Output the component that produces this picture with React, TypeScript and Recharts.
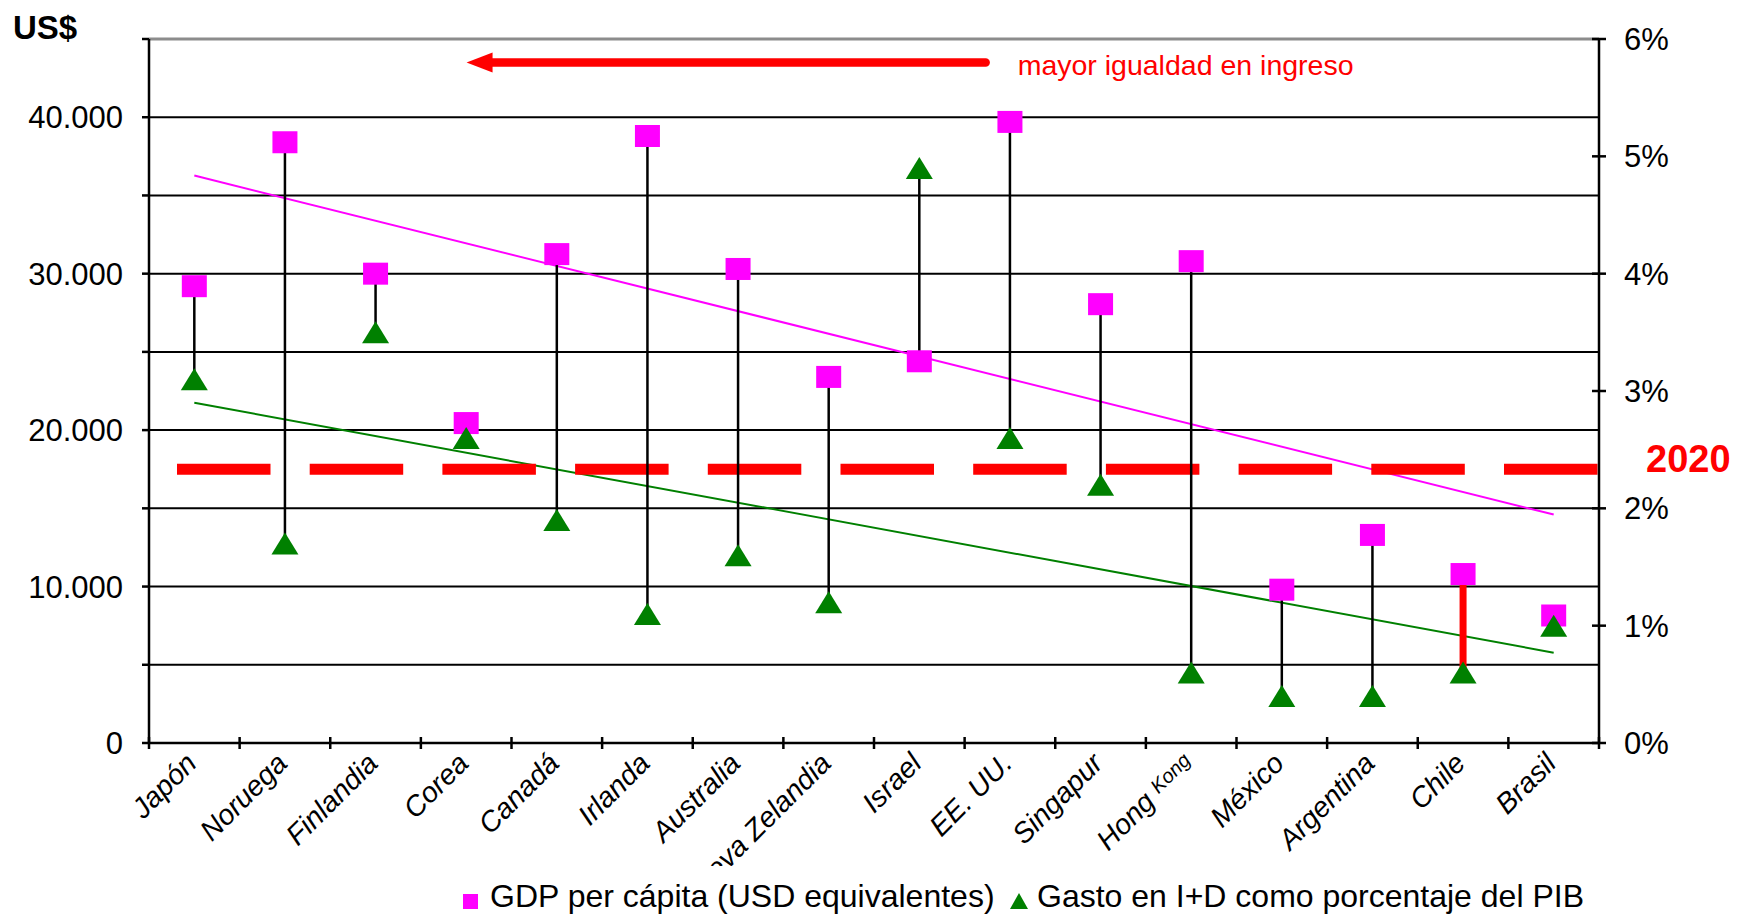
import React from 'react';
import {
    ComposedChart,
    Line,
    XAxis,
    YAxis,
    CartesianGrid,
    ReferenceLine,
    ErrorBar
} from 'recharts';

// ---- data ----
const categories = [
    'Japón', 'Noruega', 'Finlandia', 'Corea', 'Canadá', 'Irlanda', 'Australia', 'Nueva Zelandia',
    'Israel', 'EE. UU.', 'Singapur', 'Hong Kong', 'México', 'Argentina', 'Chile', 'Brasil'
];
const gdpPerCapita = [29200, 38400, 30000, 20450, 31250, 38800, 30300, 23400, 24400, 39700, 28050, 30800, 9800, 13300, 10800, 8150];
const rdSharePct = [3.1, 1.7, 3.5, 2.6, 1.9, 1.1, 1.6, 1.2, 4.9, 2.6, 2.2, 0.6, 0.4, 0.4, 0.6, 1.0];
// trend lines: value at first and last category
const gdpTrendEnds = [36270, 14600];
const rdTrendEnds = [2.9, 0.77];
const highlightedCountry = 'Chile';
const threshold2020 = 17500;

const leftTicks = [0, 5000, 10000, 15000, 20000, 25000, 30000, 35000, 40000, 45000];
const rightTicks = [0, 1, 2, 3, 4, 5, 6];
const LEFT_MAX = 45000;
const RIGHT_MAX = 6;

// annotation placement: arrow height (left axis units) and span as share of plot width
const arrowY = 43500;
const arrowFrom = 0.219;
const arrowTo = 0.577;

// ---- layout ----
const FONT = '"Liberation Sans", Arial, sans-serif';
const MAGENTA = '#FF00FF';
const GREEN = '#008000';
const RED = '#FF0000';
const CHART_W = 1744;
const CHART_H = 917;
const LEFT_W = 149;
const RIGHT_W = 145;
const TOP = 39;
const XAXIS_H = 174;
const BAND = (CHART_W - LEFT_W - RIGHT_W) / categories.length;
const RIGHT_TICK_MARGIN = 25;
const LABEL_CLIP_BOTTOM = 866;
const DASH = 93.5;
const GAP = 39.2;
const DASH_LEAD = 28;

const ratio = LEFT_MAX / RIGHT_MAX;
const last = categories.length - 1;

const rows = categories.map((name, i) => {
    const g = gdpPerCapita[i];
    const r = rdSharePct[i] * ratio;
    const top = Math.max(g, r);
    const span = Math.abs(g - r);
    const hl = name === highlightedCountry;
    return {
        name,
        gdp: g,
        rd: rdSharePct[i],
        gdpTrend: i === 0 ? gdpTrendEnds[0] : i === last ? gdpTrendEnds[1] : null,
        rdTrend: i === 0 ? rdTrendEnds[0] : i === last ? rdTrendEnds[1] : null,
        connTop: hl ? null : top,
        connErr: hl ? null : [span, 0],
        hlTop: hl ? top : null,
        hlErr: hl ? [span, 0] : null
    };
});

const fmtThousands = (v: number) => String(v).replace(/\B(?=(\d{3})+(?!\d))/g, '.');

const SquareDot = (props: any) => {
    const { cx, cy, index } = props;
    if (cx == null || cy == null) return <g key={`sq-${index}`} />;
    return <rect key={`sq-${index}`} x={cx - 12.5} y={cy - 11} width={25} height={22} fill={MAGENTA} />;
};

const TriangleDot = (props: any) => {
    const { cx, cy, index } = props;
    if (cx == null || cy == null) return <g key={`tr-${index}`} />;
    const w = 27, h = 22;
    return (
        <path
            key={`tr-${index}`}
            d={`M${cx},${cy - h / 2} L${cx + w / 2},${cy + h / 2} L${cx - w / 2},${cy + h / 2} Z`}
            fill={GREEN}
        />
    );
};

const CategoryTick = (props: any) => {
    const { x, y, payload, index } = props;
    const half = BAND / 2;
    const name: string = payload.value;
    const px = x + 4;
    const py = y + 22;
    return (
        <g>
            <line x1={x - half} x2={x - half} y1={y - 6} y2={y + 6} stroke="#000" strokeWidth={2.5} />
            {index === last && <line x1={x + half} x2={x + half} y1={y - 6} y2={y + 6} stroke="#000" strokeWidth={2.5} />}
            <defs>
                <clipPath id={`xl-${index}`}>
                    <rect x={0} y={0} width={CHART_W} height={LABEL_CLIP_BOTTOM} />
                </clipPath>
            </defs>
            <g clipPath={`url(#xl-${index})`}>
                <text
                    transform={`translate(${px},${py}) rotate(-45)`}
                    textAnchor="end"
                    fontFamily={FONT}
                    fontSize={28.5}
                    fontStyle="italic"
                    fill="#000"
                >
                    {name === 'Hong Kong' ? (
                        <>
                            <tspan>Hong </tspan>
                            <tspan fontSize={20} dy={-5}>Kong</tspan>
                        </>
                    ) : name}
                </text>
            </g>
        </g>
    );
};

const PercentTick = (props: any) => {
    const { x, y, payload } = props;
    const axisX = x - RIGHT_TICK_MARGIN;
    return (
        <g>
            <line x1={axisX - 7} x2={axisX + 7} y1={y} y2={y} stroke="#000" strokeWidth={2.5} />
            <text x={x} y={y} dy="0.36em" textAnchor="start" fontFamily={FONT} fontSize={31} fill="#000">
                {`${payload.value}%`}
            </text>
        </g>
    );
};

const Dashed2020 = (p: any) => (
    <g>
        <line
            x1={p.x1}
            y1={p.y1}
            x2={p.x2}
            y2={p.y2}
            stroke={RED}
            strokeWidth={11}
            strokeDasharray={`${DASH} ${GAP}`}
            strokeDashoffset={DASH + GAP - DASH_LEAD}
        />
        <text x={p.x2 + 47} y={p.y2 + 3} fill={RED} fontFamily={FONT} fontWeight="bold" fontSize={38}>2020</text>
    </g>
);

const IncomeArrow = (p: any) => {
    const w = p.x2 - p.x1;
    const tip = p.x1 + w * arrowFrom;
    const end = p.x1 + w * arrowTo;
    const y = p.y1;
    return (
        <g>
            <line x1={tip + 20} y1={y} x2={end} y2={y} stroke={RED} strokeWidth={8.5} strokeLinecap="round" />
            <polygon points={`${tip},${y} ${tip + 26},${y - 10} ${tip + 26},${y + 10}`} fill={RED} />
            <text x={end + 32} y={y + 12.5} fill={RED} fontFamily={FONT} fontSize={28.5}>mayor igualdad en ingreso</text>
        </g>
    );
};

export default function App() {
    return (
        <div style={{ position: 'absolute', left: 0, top: 0, width: CHART_W, height: CHART_H, background: '#fff', fontFamily: FONT }}>
            <ComposedChart width={CHART_W} height={CHART_H} data={rows} margin={{ top: TOP, right: 0, bottom: 0, left: 0 }}>
                <CartesianGrid yAxisId="left" vertical={false} stroke="#000" strokeWidth={2} />
                <XAxis
                    dataKey="name"
                    scale="band"
                    height={XAXIS_H}
                    interval={0}
                    tickSize={0}
                    tickMargin={0}
                    tickLine={false}
                    axisLine={{ stroke: '#000', strokeWidth: 2.5 }}
                    tick={<CategoryTick />}
                />
                <YAxis
                    yAxisId="left"
                    orientation="left"
                    width={LEFT_W}
                    domain={[0, LEFT_MAX]}
                    ticks={leftTicks}
                    interval={0}
                    tickFormatter={(v: number) => (v % 10000 === 0 && v < LEFT_MAX ? fmtThousands(v) : '')}
                    tickSize={7}
                    tickMargin={19}
                    tickLine={{ stroke: '#000', strokeWidth: 2.5 }}
                    axisLine={{ stroke: '#000', strokeWidth: 2.5 }}
                    tick={{ fill: '#000', fontSize: 31, fontFamily: FONT }}
                />
                <YAxis
                    yAxisId="right"
                    orientation="right"
                    width={RIGHT_W}
                    domain={[0, RIGHT_MAX]}
                    ticks={rightTicks}
                    interval={0}
                    tickSize={0}
                    tickMargin={RIGHT_TICK_MARGIN}
                    tickLine={false}
                    axisLine={{ stroke: '#000', strokeWidth: 2.5 }}
                    tick={<PercentTick />}
                />
                <ReferenceLine yAxisId="left" y={LEFT_MAX} stroke="#8c8c8c" strokeWidth={3} />

                <Line yAxisId="left" dataKey="gdpTrend" connectNulls stroke={MAGENTA} strokeWidth={2} dot={false} activeDot={false} isAnimationActive={false} />
                <Line yAxisId="right" dataKey="rdTrend" connectNulls stroke={GREEN} strokeWidth={2} dot={false} activeDot={false} isAnimationActive={false} />

                <ReferenceLine yAxisId="left" y={threshold2020} shape={Dashed2020} />

                <Line yAxisId="left" dataKey="gdp" stroke="none" dot={SquareDot} activeDot={false} isAnimationActive={false} />
                <Line yAxisId="right" dataKey="rd" stroke="none" dot={TriangleDot} activeDot={false} isAnimationActive={false} />

                <Line yAxisId="left" dataKey="connTop" stroke="none" dot={false} activeDot={false} isAnimationActive={false}>
                    <ErrorBar dataKey="connErr" width={0} stroke="#000" strokeWidth={2.5} direction="y" isAnimationActive={false} />
                </Line>
                <Line yAxisId="left" dataKey="hlTop" stroke="none" dot={false} activeDot={false} isAnimationActive={false}>
                    <ErrorBar dataKey="hlErr" width={0} stroke={RED} strokeWidth={7} direction="y" isAnimationActive={false} />
                </Line>

                <ReferenceLine yAxisId="left" y={arrowY} shape={IncomeArrow} />
            </ComposedChart>

            <div style={{ position: 'absolute', left: 13, top: 11, fontSize: 33, lineHeight: '33px', fontWeight: 'bold', color: '#000' }}>US$</div>

            <div style={{ position: 'absolute', left: 463, top: 894, width: 15, height: 15, background: MAGENTA }} />
            <div style={{ position: 'absolute', left: 490, top: 880, fontSize: 32, lineHeight: '32px', whiteSpace: 'nowrap', color: '#000' }}>
                GDP per cápita (USD equivalentes)
            </div>
            <svg style={{ position: 'absolute', left: 1010, top: 893 }} width={18} height={16}>
                <path d="M9,0 L18,16 L0,16 Z" fill={GREEN} />
            </svg>
            <div style={{ position: 'absolute', left: 1037, top: 880, fontSize: 32, lineHeight: '32px', whiteSpace: 'nowrap', color: '#000' }}>
                Gasto en I+D como porcentaje del PIB
            </div>
        </div>
    );
}
